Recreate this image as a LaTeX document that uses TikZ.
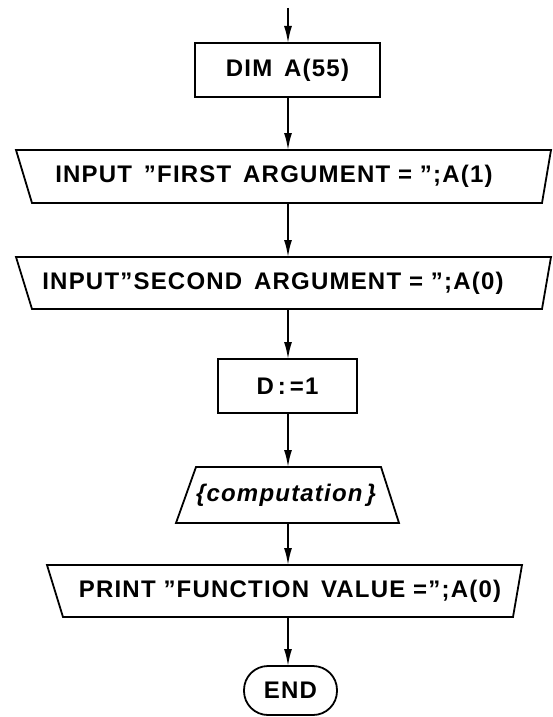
\documentclass[tikz,border=0pt]{standalone}
\usepackage{fontspec}
\setmainfont{Liberation Sans}[LetterSpace=5]
\usetikzlibrary{arrows.meta,calc}
\begin{document}
\begin{tikzpicture}[x=1pt,y=-1pt,
  line/.style={line width=1.8pt,line join=miter},
  arr/.style={line width=1.8pt,-{Latex[length=17pt,width=8pt]}},
  txt/.style={font=\bfseries\fontsize{24}{24}\selectfont,inner sep=0pt,outer sep=0pt},
  boxnode/.style={txt,draw,line width=1.8pt},
]
\useasboundingbox[fill=white] (0,0) rectangle (553,717);
\coordinate (axis) at (288,0);
\coordinate (start) at (288,8);

\node[boxnode,minimum width=185pt,minimum height=54pt] (dim) at (287.5,70) {DIM\, A(55)};

\node[txt,minimum height=53pt] (in1) at (274,176.5) {INPUT\, ”FIRST\, ARGUMENT = ”;A(1)};
\draw[line] ($(in1)+(-258,-26.5)$) -- ($(in1)+(277,-26.5)$) -- ($(in1)+(268,26.5)$) -- ($(in1)+(-242,26.5)$) -- cycle;

\node[txt,minimum height=52pt] (in2) at (273,283) {INPUT”SECOND\, ARGUMENT = ”;A(0)};
\draw[line] ($(in2)+(-257,-26)$) -- ($(in2)+(278,-26)$) -- ($(in2)+(269,26)$) -- ($(in2)+(-241,26)$) -- cycle;

\node[boxnode,minimum width=139pt,minimum height=54pt] (d) at (287.5,386) {D\,:\,=1};

\node[txt,font=\bfseries\itshape\fontsize{24}{24}\selectfont,minimum height=56pt] (comp) at (286,495) {\{computation\,\}};
\draw[line] ($(comp)+(-90,-28)$) -- ($(comp)+(95,-28)$) -- ($(comp)+(113,28)$) -- ($(comp)+(-110,28)$) -- cycle;

\node[txt,minimum height=52pt] (pr) at (290,591) {PRINT ”FUNCTION\, VALUE =”;A(0)};
\draw[line] ($(pr)+(-243,-26)$) -- ($(pr)+(232,-26)$) -- ($(pr)+(223,26)$) -- ($(pr)+(-227,26)$) -- cycle;

\node[boxnode,rounded corners=24pt,minimum width=93pt,minimum height=49pt] (end) at (290.5,690.5) {END};

\draw[arr] (start) -- (axis |- dim.north);
\draw[arr] (axis |- dim.south) -- (axis |- in1.north);
\draw[arr] (axis |- in1.south) -- (axis |- in2.north);
\draw[arr] (axis |- in2.south) -- (axis |- d.north);
\draw[arr] (axis |- d.south) -- (axis |- comp.north);
\draw[arr] (axis |- comp.south) -- (axis |- pr.north);
\draw[arr] (axis |- pr.south) -- (axis |- end.north);
\end{tikzpicture}
\end{document}
